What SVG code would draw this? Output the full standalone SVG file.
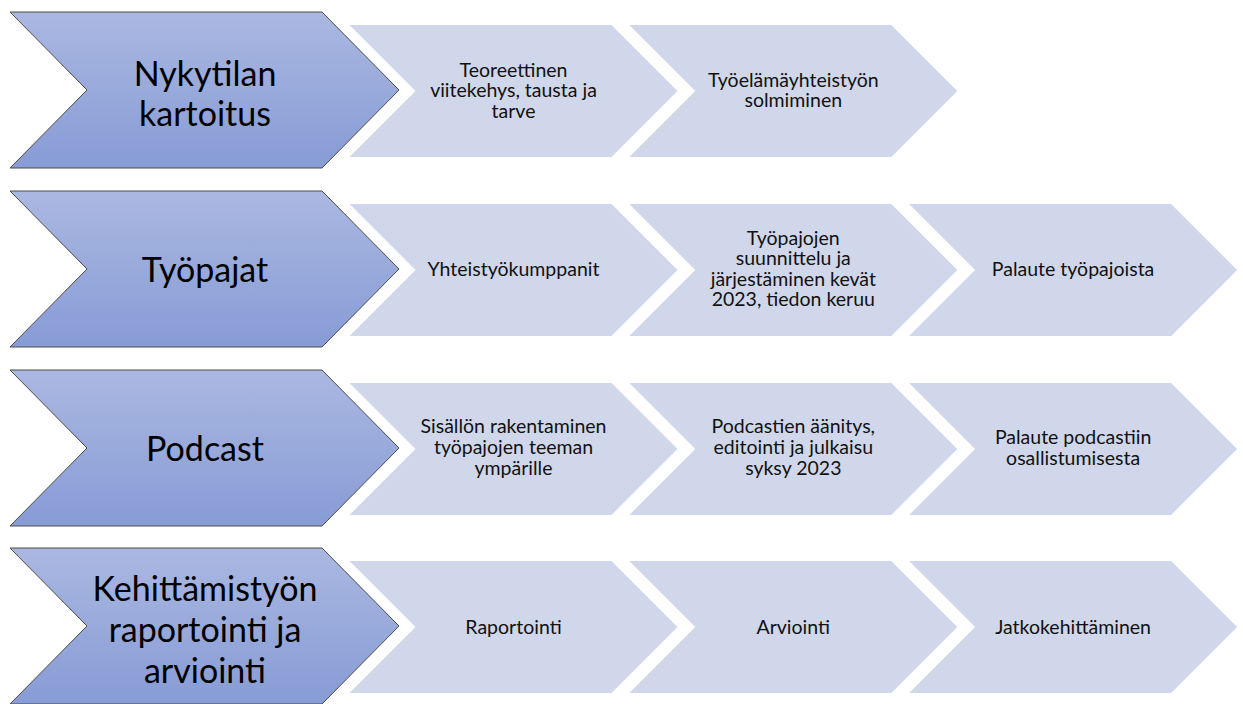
<svg xmlns="http://www.w3.org/2000/svg" width="1243" height="704" viewBox="0 0 1243 704">
<defs>
<linearGradient id="bigGrad" x1="0" y1="0" x2="0" y2="1">
<stop offset="0" stop-color="#AAB8E1"/>
<stop offset="1" stop-color="#879BD5"/>
</linearGradient>
<style>
.big{fill:url(#bigGrad);stroke:#4d4d4d;stroke-width:1}
.small{fill:#D0D7EA;stroke:none}
.bt{font-family:Lato,"Liberation Sans",sans-serif;font-size:34px;fill:#000;text-anchor:middle}
.st{font-family:Lato,"Liberation Sans",sans-serif;font-size:19.5px;fill:#111;text-anchor:middle}
</style>
</defs>
<rect width="1243" height="704" fill="#fff"/>
<g id="connectors"/>

<!-- Row 1 -->
<g id="n-nykytilan">
<path class="big" d="M10,12 H322 L399,90 L322,168 H10 L87,90 Z"/>
<text class="bt" x="205" y="86">Nykytilan</text>
<text class="bt" x="205" y="126">kartoitus</text>
</g>
<g id="n-teoreettinen">
<path class="small" d="M349.5,25 H611.5 L677.5,91 L611.5,157 H349.5 L415.5,91 Z"/>
<text class="st" x="513.5" y="76.5">Teoreettinen</text>
<text class="st" x="513.5" y="97">viitekehys, tausta ja</text>
<text class="st" x="513.5" y="117.5">tarve</text>
</g>
<g id="n-tyoelama">
<path class="small" d="M629.3,25 H891.3 L957.3,91 L891.3,157 H629.3 L695.3,91 Z"/>
<text class="st" x="793.3" y="86.5">Työelämäyhteistyön</text>
<text class="st" x="793.3" y="107">solmiminen</text>
</g>

<!-- Row 2 -->
<g id="n-tyopajat">
<path class="big" d="M10,191 H322 L399,269 L322,347 H10 L87,269 Z"/>
<text class="bt" x="205" y="281.5">Työpajat</text>
</g>
<g id="n-yhteistyokumppanit">
<path class="small" d="M349.5,204 H611.5 L677.5,270 L611.5,336 H349.5 L415.5,270 Z"/>
<text class="st" x="513.5" y="276">Yhteistyökumppanit</text>
</g>
<g id="n-suunnittelu">
<path class="small" d="M629.3,204 H891.3 L957.3,270 L891.3,336 H629.3 L695.3,270 Z"/>
<text class="st" x="793.3" y="244.5">Työpajojen</text>
<text class="st" x="793.3" y="265">suunnittelu ja</text>
<text class="st" x="793.3" y="285.5">järjestäminen kevät</text>
<text class="st" x="793.3" y="306">2023, tiedon keruu</text>
</g>
<g id="n-palaute-tyopajoista">
<path class="small" d="M909.1,204 H1171.1 L1237.1,270 L1171.1,336 H909.1 L975.1,270 Z"/>
<text class="st" x="1073.1" y="276">Palaute työpajoista</text>
</g>

<!-- Row 3 -->
<g id="n-podcast">
<path class="big" d="M10,370 H322 L399,448 L322,526 H10 L87,448 Z"/>
<text class="bt" x="205" y="460.5">Podcast</text>
</g>
<g id="n-sisallon">
<path class="small" d="M349.5,383 H611.5 L677.5,449 L611.5,515 H349.5 L415.5,449 Z"/>
<text class="st" x="513.5" y="433">Sisällön rakentaminen</text>
<text class="st" x="513.5" y="454">työpajojen teeman</text>
<text class="st" x="513.5" y="475">ympärille</text>
</g>
<g id="n-aanitys">
<path class="small" d="M629.3,383 H891.3 L957.3,449 L891.3,515 H629.3 L695.3,449 Z"/>
<text class="st" x="793.3" y="433">Podcastien äänitys,</text>
<text class="st" x="793.3" y="454">editointi ja julkaisu</text>
<text class="st" x="793.3" y="475">syksy 2023</text>
</g>
<g id="n-palaute-podcast">
<path class="small" d="M909.1,383 H1171.1 L1237.1,449 L1171.1,515 H909.1 L975.1,449 Z"/>
<text class="st" x="1073.1" y="443.5">Palaute podcastiin</text>
<text class="st" x="1073.1" y="464.5">osallistumisesta</text>
</g>

<!-- Row 4 -->
<g id="n-kehittamistyo">
<path class="big" d="M10,548 H322 L399,626 L322,704 H10 L87,626 Z"/>
<text class="bt" x="205" y="601">Kehittämistyön</text>
<text class="bt" x="205" y="642">raportointi ja</text>
<text class="bt" x="205" y="683">arviointi</text>
</g>
<g id="n-raportointi">
<path class="small" d="M349.5,561 H611.5 L677.5,627 L611.5,693 H349.5 L415.5,627 Z"/>
<text class="st" x="513.5" y="633.5">Raportointi</text>
</g>
<g id="n-arviointi">
<path class="small" d="M629.3,561 H891.3 L957.3,627 L891.3,693 H629.3 L695.3,627 Z"/>
<text class="st" x="793.3" y="633.5">Arviointi</text>
</g>
<g id="n-jatkokehittaminen">
<path class="small" d="M909.1,561 H1171.1 L1237.1,627 L1171.1,693 H909.1 L975.1,627 Z"/>
<text class="st" x="1073.1" y="633.5">Jatkokehittäminen</text>
</g>
</svg>
